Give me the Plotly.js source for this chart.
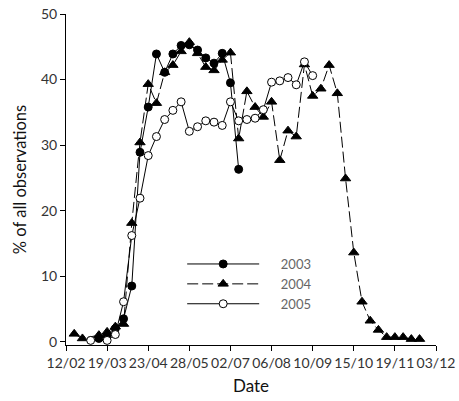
<!DOCTYPE html>
<html>
<head>
<meta charset="utf-8">
<script src="https://cdn.plot.ly/plotly-3.0.1.min.js"></script>
<style>html,body{margin:0;padding:0;background:#fff;}#chart{width:459px;height:401px;}</style>
</head>
<body>
<div id="chart"></div>
<script>
// x = weeks after 12/02
var weeks2003 = [4,5,6,7,8,9,10,11,12,13,14,15,16,17,18,19,20,21];
var vals2003  = [0.5,0.9,2.0,3.5,8.5,28.9,35.8,43.9,41.1,43.9,45.2,45.3,44.5,43.3,42.5,44.0,39.5,26.3];

var weeks2004 = [1,2,4,5,6,7,8,9,10,11,12,13,14,15,16,17,18,19,20,21,22,23,24,25,26,27,28,29,30,31,32,33,34,35,36,37,38,39,40,41,42,43];
var vals2004  = [1.2,0.5,1.0,1.5,2.3,2.7,18.1,30.4,39.3,36.4,41.1,42.2,44.3,45.7,44.0,41.9,41.4,43.0,44.1,31.0,38.2,35.8,34.3,36.6,27.7,32.2,31.3,42.3,37.5,38.6,42.2,37.9,24.9,13.6,6.1,3.2,1.8,0.7,0.7,0.7,0.4,0.4];

var weeks2005 = [3,5,6,7,8,9,10,11,12,13,14,15,16,17,18,19,20,21,22,23,24,25,26,27,28,29,30];
var vals2005  = [0.2,0.2,1.1,6.1,16.2,21.9,28.4,31.3,33.9,35.3,36.6,32.1,32.8,33.7,33.5,33.0,36.6,33.7,33.9,34.1,35.4,39.6,39.8,40.3,39.2,42.7,40.6];

var tickWeeks = [0,5,10,15,20,25,30,35,40,45];
var tickLabels = ['12/02','19/03','23/04','28/05','02/07','06/08','10/09','15/10','19/11','03/12'];
var yTicks = [0,10,20,30,40,50];
var seriesNames = ['2003','2004','2005'];

var FONT = 'Lato, "DejaVu Sans", sans-serif';
var PAD = '\u00a0\u00a0\u00a0\u00a0\u00a0';

var traces = [
  {x: weeks2003, y: vals2003, name: PAD + seriesNames[0], type: 'scatter', mode: 'lines+markers',
   line: {color: '#000', width: 1},
   marker: {symbol: 'circle', size: 8, color: '#000', line: {color: '#000', width: 1}}},
  {x: weeks2004, y: vals2004, name: PAD + seriesNames[1], type: 'scatter', mode: 'lines+markers',
   line: {color: '#000', width: 1, dash: '11px,4px'},
   marker: {symbol: 'triangle-up', size: 9, color: '#000', line: {color: '#000', width: 1}}},
  {x: weeks2005, y: vals2005, name: PAD + seriesNames[2], type: 'scatter', mode: 'lines+markers',
   line: {color: '#000', width: 1},
   marker: {symbol: 'circle', size: 8, color: '#fff', line: {color: '#000', width: 1}}}
];

var layout = {
  width: 459, height: 401,
  margin: {l: 66, r: 23, t: 14, b: 56},
  paper_bgcolor: '#fff', plot_bgcolor: '#fff',
  font: {family: FONT, color: '#222', size: 12},
  showlegend: true,
  legend: {x: 0.314, y: 0.29, xanchor: 'left', yanchor: 'top', bgcolor: 'rgba(0,0,0,0)',
           itemwidth: 72, tracegroupgap: 0, font: {family: FONT, size: 13, color: '#666'}},
  xaxis: {
    range: [0, 45], tickmode: 'array', tickvals: tickWeeks, ticktext: tickLabels,
    tickangle: 0, autotickangles: [0],
    showgrid: false, zeroline: false, showline: true, linecolor: '#000', linewidth: 1,
    ticks: 'outside', ticklen: 5, tickcolor: '#000',
    tickfont: {family: FONT, size: 14, color: '#333'},
    title: {text: 'Date', font: {family: FONT, size: 17, color: '#111'}, standoff: 10}
  },
  yaxis: {
    range: [-0.5, 50], tickmode: 'array', tickvals: yTicks,
    showgrid: false, zeroline: false, showline: true, linecolor: '#000', linewidth: 1,
    ticks: 'outside', ticklen: 5, tickcolor: '#000',
    tickfont: {family: FONT, size: 14, color: '#333'},
    title: {text: '% of all observations', font: {family: FONT, size: 16.5, color: '#111'}, standoff: 10}
  }
};

Plotly.newPlot('chart', traces, layout, {displayModeBar: false, staticPlot: true});
</script>
</body>
</html>
